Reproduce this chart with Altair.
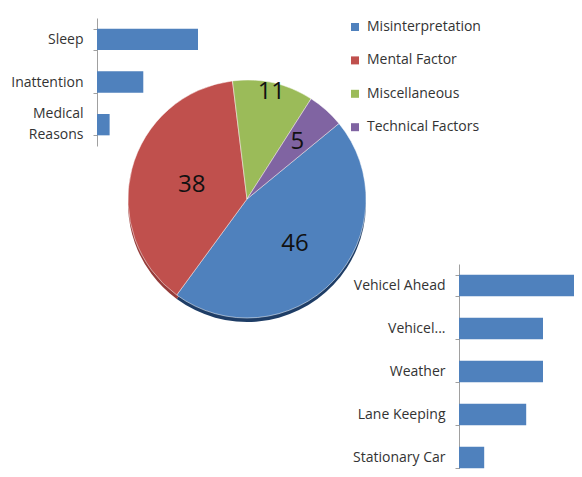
import math
import altair as alt
import pandas as pd

# ---- data ----
pie_cats = ["Misinterpretation", "Mental Factor", "Miscellaneous", "Technical Factors"]
pie_vals = [46, 38, 11, 5]
pie_colors = ["#4F81BD", "#C0504D", "#9BBB59", "#8064A2"]
slice_sequence = ["Miscellaneous", "Technical Factors", "Misinterpretation", "Mental Factor"]

left_cats = ["Sleep", "Inattention", "Medical Reasons"]
left_vals = [24, 11, 3]

right_cats = ["Vehicel Ahead", "Vehicel...", "Weather", "Lane Keeping", "Stationary Car"]
right_vals = [15, 10, 10, 8, 3]

FONT = "Open Sans"
BAR = "#4F81BD"
AXIS = "#a0a0a0"
TXT = "#333333"

pie_df = pd.DataFrame({
    "cat": pie_cats,
    "value": pie_vals,
    "seq": [slice_sequence.index(c) for c in pie_cats],
})
left_df = pd.DataFrame({"cat": left_cats, "value": left_vals})
right_df = pd.DataFrame({"cat": right_cats, "value": right_vals})

CX, CY, R = 239, 191, 119
START = 2 * math.pi - math.radians(7)
theta_scale = alt.Scale(domain=[0, 100], range=[START, START + 2 * math.pi])

theta = alt.Theta("value:Q", stack=True, scale=theta_scale)
order = alt.Order("seq:Q")

shadow = alt.Chart(pie_df).mark_arc(radius=R).encode(
    theta=theta, order=order, detail="cat:N",
    x=alt.value(CX), y=alt.value(CY + 4),
    fill=alt.condition(alt.datum.cat == "Misinterpretation",
                       alt.value("#1e3d66"), alt.value("#963c3a")),
)

pie = alt.Chart(pie_df).mark_arc(radius=R, stroke="white", strokeWidth=0.5).encode(
    theta=theta, order=order,
    x=alt.value(CX), y=alt.value(CY),
    color=alt.Color(
        "cat:N",
        scale=alt.Scale(domain=pie_cats, range=pie_colors),
        legend=alt.Legend(
            title=None, orient="none", legendX=340, legendY=12,
            symbolType="square", symbolSize=64, symbolStrokeWidth=0,
            labelFont=FONT, labelFontSize=14, labelColor=TXT,
            rowPadding=19.4, labelOffset=5, padding=0,
        ),
    ),
)

pie_text = alt.Chart(pie_df).transform_window(
    cum="sum(value)", sort=[alt.SortField("seq")]
).transform_calculate(
    mid="datum.cum - datum.value / 2",
    lr="datum.cat == 'Miscellaneous' ? 110 : datum.cat == 'Technical Factors' ? 76 : datum.cat == 'Misinterpretation' ? 66 : 57",
).mark_text(font=FONT, fontSize=24, color="#111111").encode(
    theta=alt.Theta("mid:Q", stack=False, scale=theta_scale),
    x=alt.value(CX), y=alt.value(CY),
    radius=alt.Radius("lr:Q", scale=None),
    text="value:Q",
)


def bar_axis(offset, expr, two_line=None):
    kw = dict(
        orient="left", offset=offset, tickBand="extent",
        domainColor=AXIS, tickColor=AXIS, tickSize=4, labelPadding=10,
        labelFont=FONT, labelFontSize=14, labelColor=TXT, grid=False,
        labelLimit=200, title=None, labelExpr=expr, labelLineHeight=21,
    )
    if two_line:
        kw["labelOffset"] = {"condition": {"test": f"datum.value === '{two_line}'", "value": -11}, "value": 0}
    return alt.Axis(**kw)


left = alt.Chart(left_df).mark_bar(color=BAR).encode(
    x=alt.X("value:Q", axis=None,
            scale=alt.Scale(domain=[0, 24], range=[89, 190], nice=False)),
    y=alt.Y("cat:N", sort=left_cats,
            scale=alt.Scale(range=[10, 138], paddingInner=0.5, paddingOuter=0.25),
            axis=bar_axis(-89, "datum.value ? split(datum.value, ' ') : ''", left_cats[2])),
)

right = alt.Chart(right_df).mark_bar(color=BAR).encode(
    x=alt.X("value:Q", axis=None,
            scale=alt.Scale(domain=[0, 10], range=[451, 535], nice=False)),
    y=alt.Y("cat:N", sort=right_cats,
            scale=alt.Scale(range=[256, 471], paddingInner=0.5, paddingOuter=0.25),
            axis=bar_axis(-451, "datum.value ? datum.label : ''")),
)

chart = alt.layer(left, right, shadow, pie, pie_text).resolve_scale(
    x="independent", y="independent"
).properties(
    width=566, height=461, autosize="none", padding=0, background="white"
).configure_view(strokeWidth=0)

chart.save("out.html", embed_options={"renderer": "svg", "actions": False})
